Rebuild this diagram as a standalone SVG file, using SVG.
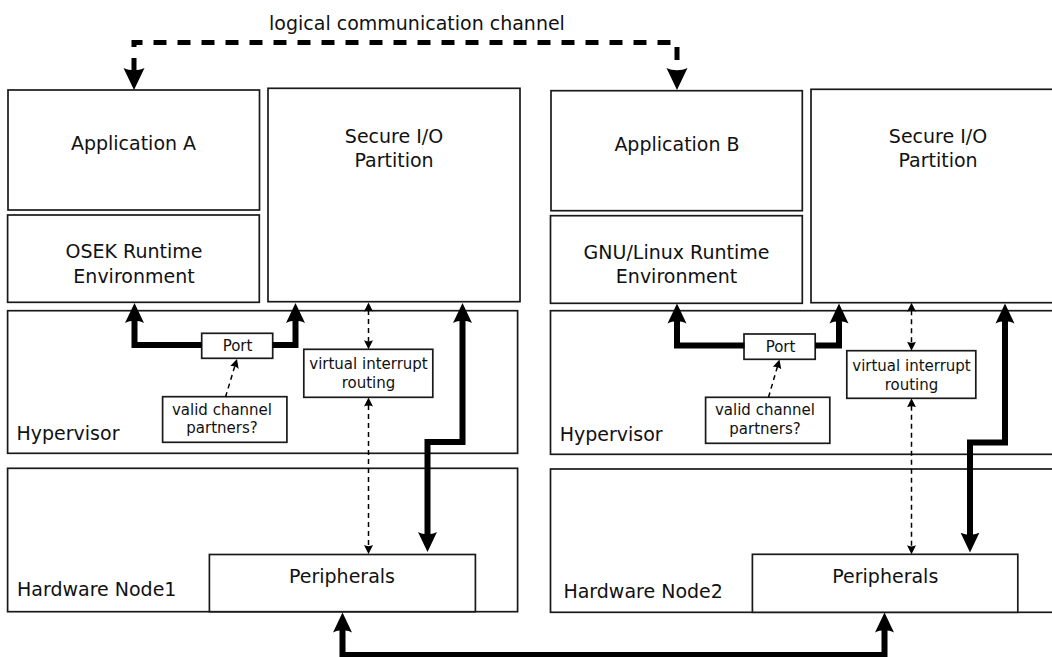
<svg xmlns="http://www.w3.org/2000/svg" width="1052" height="657" viewBox="0 0 1052 657">
<style>
  .box { fill: #ffffff; stroke: #1a1a1a; stroke-width: 1.7; }
  .lbl { font-family: "DejaVu Sans", "Liberation Sans", sans-serif; font-size: 19px; fill: #111; }
  .sm { font-family: "DejaVu Sans", "Liberation Sans", sans-serif; font-size: 15px; fill: #111; }
  .mid { text-anchor: middle; }
  .thick { fill: none; stroke: #000; stroke-width: 6; stroke-linejoin: miter; }
  .chan { fill: none; stroke: #000; stroke-width: 5; stroke-dasharray: 13 11; }
  .thin { fill: none; stroke: #000; stroke-width: 1.5; stroke-dasharray: 5 4; }
</style>
<defs>
  <marker id="ah" markerUnits="userSpaceOnUse" markerWidth="22" markerHeight="22" viewBox="0 -11 22 22" refX="3" refY="0" orient="auto-start-reverse">
    <path d="M20,0 L0,-9.5 C3,-4 3,4 0,9.5 Z" fill="#000"/>
  </marker>
  <marker id="ahc" markerUnits="userSpaceOnUse" markerWidth="24" markerHeight="24" viewBox="0 -12 24 24" refX="3" refY="0" orient="auto-start-reverse">
    <path d="M22,0 L0,-10.5 C3,-4 3,4 0,10.5 Z" fill="#000"/>
  </marker>
  <marker id="ahs" markerUnits="userSpaceOnUse" markerWidth="12" markerHeight="12" viewBox="0 -6 12 12" refX="1.5" refY="0" orient="auto-start-reverse">
    <path d="M9,0 L0,-4.5 C1.5,-2 1.5,2 0,4.5 Z" fill="#000"/>
  </marker>
</defs>

<text class="lbl" x="417" y="30" text-anchor="middle">logical communication channel</text>

<g id="appA"><rect class="box" x="8" y="90" width="251.5" height="120"/><text class="lbl mid" x="133.5" y="150">Application A</text></g>
<g id="osek"><rect class="box" x="7.6" y="215" width="251.7" height="87.3"/><text class="lbl mid" x="134" y="258.3">OSEK Runtime</text><text class="lbl mid" x="134" y="282.7">Environment</text></g>
<g id="sioA"><rect class="box" x="268" y="88.3" width="252" height="213.4"/><text class="lbl mid" x="394" y="142.7">Secure I/O</text><text class="lbl mid" x="394" y="166.7">Partition</text></g>
<g id="hypA"><rect class="box" x="7.6" y="310.7" width="510" height="142.6"/><text class="lbl" x="16.5" y="439.5">Hypervisor</text></g>
<g id="hwA"><rect class="box" x="7.6" y="468.3" width="510" height="143.4"/><text class="lbl" x="17" y="596">Hardware Node1</text></g>
<g id="periA"><rect class="box" x="209.4" y="554.5" width="266" height="57.2"/><text class="lbl mid" x="342" y="582.7">Peripherals</text></g>
<g id="portA"><rect class="box" x="201.7" y="333.3" width="71" height="25"/><text class="sm mid" x="237.5" y="351">Port</text></g>
<g id="virA"><rect class="box" x="303.8" y="349.3" width="129" height="48"/><text class="sm mid" x="368.5" y="369.3">virtual interrupt</text><text class="sm mid" x="368.5" y="388.3">routing</text></g>
<g id="validA"><rect class="box" x="162.6" y="396.7" width="124.3" height="45.6"/><text class="sm mid" x="222" y="414.5">valid channel</text><text class="sm mid" x="222" y="433">partners?</text></g>

<g id="appB"><rect class="box" x="551" y="90.7" width="251.3" height="120"/><text class="lbl mid" x="677" y="150.7">Application B</text></g>
<g id="gnu"><rect class="box" x="550.5" y="215.7" width="251.8" height="87.6"/><text class="lbl mid" x="676.5" y="259.3">GNU/Linux Runtime</text><text class="lbl mid" x="676.5" y="283">Environment</text></g>
<g id="sioB"><rect class="box" x="811" y="89.3" width="252" height="213.4"/><text class="lbl mid" x="938" y="143.3">Secure I/O</text><text class="lbl mid" x="938" y="167.3">Partition</text></g>
<g id="hypB"><rect class="box" x="550.5" y="310.7" width="510" height="143.6"/><text class="lbl" x="559.7" y="440.7">Hypervisor</text></g>
<g id="hwB"><rect class="box" x="550.5" y="469" width="510" height="143.3"/><text class="lbl" x="563.4" y="597.7">Hardware Node2</text></g>
<g id="periB"><rect class="box" x="752.4" y="554.3" width="265.4" height="58"/><text class="lbl mid" x="885.3" y="583.3">Peripherals</text></g>
<g id="portB"><rect class="box" x="744" y="334" width="71.2" height="25.3"/><text class="sm mid" x="780.5" y="352">Port</text></g>
<g id="virB"><rect class="box" x="846.8" y="350.7" width="129" height="47.6"/><text class="sm mid" x="911.5" y="370.5">virtual interrupt</text><text class="sm mid" x="911.5" y="389.5">routing</text></g>
<g id="validB"><rect class="box" x="705.6" y="397.3" width="124.2" height="46"/><text class="sm mid" x="765" y="415">valid channel</text><text class="sm mid" x="765" y="433.5">partners?</text></g>

<g id="connectors">
  <path class="chan" d="M134,71 V42.5 H677 V71" marker-start="url(#ahc)" marker-end="url(#ahc)"/>
  <path class="thick" d="M202,345 H134.5 V320" marker-end="url(#ah)"/>
  <path class="thick" d="M272.5,345 H295.5 V320" marker-end="url(#ah)"/>
  <path class="thick" d="M462.5,320 V442 H427.5 V535" marker-start="url(#ah)" marker-end="url(#ah)"/>
  <path class="thick" d="M342.5,629.5 V655 H884.5 V629.5" marker-start="url(#ah)" marker-end="url(#ah)"/>
  <path class="thick" d="M744.5,345.5 H677 V320.5" marker-end="url(#ah)"/>
  <path class="thick" d="M815,345.5 H839 V320.5" marker-end="url(#ah)"/>
  <path class="thick" d="M1005,320.5 V442.5 H970 V535.5" marker-start="url(#ah)" marker-end="url(#ah)"/>
  <path class="thin" d="M368.5,310 V341.8" marker-start="url(#ahs)" marker-end="url(#ahs)"/>
  <path class="thin" d="M368.5,405 V546.5" marker-start="url(#ahs)" marker-end="url(#ahs)"/>
  <path class="thin" d="M225.5,397 L234.8,366.2" marker-end="url(#ahs)"/>
  <path class="thin" d="M911.5,310.2 V343.2" marker-start="url(#ahs)" marker-end="url(#ahs)"/>
  <path class="thin" d="M911.5,405.8 V546.8" marker-start="url(#ahs)" marker-end="url(#ahs)"/>
  <path class="thin" d="M768.5,397.3 L777.4,366.7" marker-end="url(#ahs)"/>
</g>
</svg>
